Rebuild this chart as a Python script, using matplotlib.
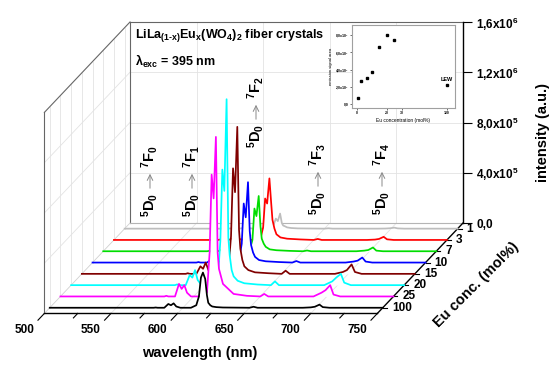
import matplotlib.pyplot as plt
from matplotlib.transforms import Affine2D

plt.rcParams['font.family'] = ['Liberation Sans', 'DejaVu Sans']
plt.rcParams['font.weight'] = 'bold'
plt.rcParams['mathtext.fontset'] = 'custom'
plt.rcParams['mathtext.rm'] = 'Liberation Sans:bold'
plt.rcParams['mathtext.bf'] = 'Liberation Sans:bold'
plt.rcParams['mathtext.it'] = 'Liberation Sans:bold'
plt.rcParams['mathtext.default'] = 'bf'

# emission spectra, intensity in units of 1e5 (a.u.)
wavelength = [500, 560, 578, 579.5, 581, 586, 589, 591, 593, 595, 598, 606, 610, 612, 613.5,
              615, 616.7, 618, 619, 620.5, 622, 625, 630, 640, 650, 653, 656, 665, 690, 696,
              699, 702.5, 705, 710, 750]

eu_01 = [0, 0, 0, 0.02, 0, 0, 0.05, 0.03, 0.06, 0.02, 0, 0, 0.05, 0.35, 0.8, 0.6, 1.2, 0.45,
         0.25, 0.18, 0.1, 0.05, 0.02, 0.01, 0, 0.03, 0, 0, 0, 0.01, 0.03, 0.08, 0.02, 0, 0]
eu_03 = [0, 0, 0, 0.03, 0, 0, 0.12, 0.08, 0.15, 0.05, 0, 0, 0.1, 1.0, 3.3, 2.9, 4.9, 3.0,
         1.6, 0.9, 0.45, 0.2, 0.1, 0.04, 0, 0.08, 0, 0, 0, 0.03, 0.08, 0.25, 0.05, 0, 0]
eu_07 = [0, 0, 0, 0.03, 0, 0, 0.12, 0.08, 0.15, 0.05, 0, 0, 0.1, 0.9, 3.4, 2.8, 4.4, 2.0,
         1.0, 0.6, 0.35, 0.15, 0.08, 0.03, 0, 0.06, 0, 0, 0, 0.05, 0.1, 0.3, 0.05, 0, 0]
eu_10 = [0, 0, 0, 0.04, 0, 0, 0.25, 0.15, 0.3, 0.1, 0, 0, 0.15, 1.5, 4.7, 3.6, 6.4, 2.5,
         1.4, 0.8, 0.45, 0.2, 0.1, 0.04, 0, 0.12, 0, 0, 0, 0.08, 0.15, 0.4, 0.08, 0, 0]
eu_15 = [0, 0, 0, 0.05, 0, 0, 0.6, 0.4, 0.9, 0.3, 0, 0, 0.3, 3.0, 8.4, 6.5, 11.7, 3.5,
         2.0, 1.1, 0.6, 0.3, 0.12, 0.05, 0, 0.25, 0, 0, 0, 0.15, 0.3, 0.75, 0.15, 0, 0]
eu_20 = [0, 0, 0, 0.06, 0, 0, 0.8, 0.6, 1.2, 0.4, 0, 0, 0.3, 3.5, 9.2, 7.5, 14.8, 3.8,
         2.4, 1.2, 0.7, 0.35, 0.15, 0.05, 0, 0.3, 0, 0, 0, 0.3, 0.6, 0.9, 0.2, 0, 0]
eu_25 = [0, 0, 0, 0.05, 0, 0, 1.0, 0.6, 0.9, 0.3, 0, 0, 0.3, 3.5, 9.7, 7.8, 12.7, 3.5,
         2.2, 1.6, 1.0, 0.7, 0.2, 0.05, 0, 0.2, 0, 0, 0, 0.3, 0.5, 0.9, 0.15, 0, 0]
eu_100 = [0, 0, 0, 0.02, 0, 0, 0.3, 0.2, 0.35, 0.1, 0, 0, 0.2, 0.9, 2.4, 2.8, 2.3, 1.0,
          0.4, 0.2, 0.1, 0.05, 0.02, 0.01, 0, 0.08, 0, 0, 0, 0.03, 0.08, 0.25, 0.05, 0, 0]

spectra = [eu_01, eu_03, eu_07, eu_10, eu_15, eu_20, eu_25, eu_100]
conc_labels = ['1', '3', '7', '10', '15', '20', '25', '100']
colors = ['#bdbdbd', '#ff0000', '#00dd00', '#0000ff', '#800000', '#00ffff', '#ff00ff', '#000000']

int_ticks = [0, 4, 8, 12, 16]
int_labels = ['0,0', r'4,0x10$^5$', r'8,0x10$^5$', r'1,2x10$^6$', r'1,6x10$^6$']

# inset: integrated emission vs Eu content
inset_conc = [1, 3, 7, 10, 15, 20, 25, 100]
inset_area = [0.73, 2.67, 2.98, 3.75, 6.6, 8.0, 7.5, 2.17]

# transitions 5D0 -> 7FJ : (x px, bottom y px, J)
transitions = [(150, 217, 0), (192, 217, 1), (256, 148, 2), (318, 215, 3), (382, 215, 4)]

W, H = 553, 365
DX, DY = 10.7, 11.3   # pixel shift per depth step
NDEPTH = 8

fig = plt.figure(figsize=(W / 100, H / 100), dpi=100)
ov = fig.add_axes([0, 0, 1, 1], zorder=0)
ov.set_xlim(0, W)
ov.set_ylim(0, H)
ov.axis('off')

ax = fig.add_axes([130 / W, 1 - 223 / H, 333 / W, 201 / H], zorder=2)
ax.set_xlim(500, 750)
ax.set_ylim(0, 16)
ax.patch.set_visible(False)
for s in ['left', 'top', 'bottom']:
    ax.spines[s].set_visible(False)
ax.spines['right'].set_linewidth(1.0)
ax.set_xticks([])
ax.yaxis.tick_right()
ax.set_yticks(int_ticks)
ax.set_yticklabels(int_labels)
ax.tick_params(axis='y', length=6.5, width=0.8, labelsize=8.5, pad=3)


def P(wl, val, d):
    x, y = ax.transData.transform((wl, val))
    return x - d * DX, y - d * DY


def seg(a, b, **kw):
    ov.plot([a[0], b[0]], [a[1], b[1]], **kw)


grid = dict(color='#e3e3e3', lw=0.6)
for wl in [550, 600, 650, 700]:
    seg(P(wl, 0, 0), P(wl, 16, 0), **grid)
    seg(P(wl, 0, 0), P(wl, 0, NDEPTH), **grid)
for v in [4, 8, 12]:
    seg(P(500, v, 0), P(750, v, 0), **grid)
    seg(P(500, v, 0), P(500, v, NDEPTH), **grid)
for k in range(len(spectra)):
    seg(P(500, 0, k + 0.5), P(500, 16, k + 0.5), **grid)

edge = dict(color='#666666', lw=0.8)
seg(P(500, 16, 0), P(750, 16, 0), **edge)
seg(P(500, 0, 0), P(500, 16, 0), **edge)
seg(P(500, 16, 0), P(500, 16, NDEPTH), **edge)
seg(P(500, 16, NDEPTH), P(500, 0, NDEPTH), **edge)
seg(P(500, 0, 0), P(750, 0, 0), color='#b5b5b5', lw=0.8)
seg(P(500, 0, 0), P(500, 0, NDEPTH), color='#d0d0d0', lw=0.6)

# front wavelength axis
seg(P(500, 0, NDEPTH), P(750, 0, NDEPTH), color='k', lw=1.0)
for wl in range(500, 751, 25):
    L = 0.6 if wl % 50 == 0 else 0.4
    seg(P(wl, 0, NDEPTH), P(wl, 0, NDEPTH + L), color='k', lw=0.8)
    if wl % 50 == 0:
        x, y = P(wl, 0, NDEPTH)
        ov.text(x - 20, y - 17, str(wl), ha='center', va='center', fontsize=8.5)
ov.text(200, H - 353, 'wavelength (nm)', ha='center', va='center', fontsize=10.5)

# depth axis
seg(P(750, 0, 0), P(750, 0, NDEPTH), color='k', lw=1.0)
for k, lab in enumerate(conc_labels):
    x, y = P(750, 0, k + 0.5)
    ov.plot([x, x + 4], [y, y], color='k', lw=0.8)
    ov.text(x + 9, y, lab, ha='left', va='center', fontsize=8.5)
ov.text(476, H - 285, 'Eu conc. (mol%)', rotation=45, ha='center', va='center',
        rotation_mode='anchor', fontsize=10.5)

ov.text(543, H - 133, 'intensity (a.u.)', rotation=90, ha='center', va='center', fontsize=10.5)

ov.text(135, H - 36, r'LiLa$_{(1\text{-}x)}$Eu$_x$(WO$_4$)$_2$ fiber crystals', ha='left',
        va='center', fontsize=9)
ov.text(135, H - 61, r'$\lambda_{exc}$ = 395 nm', ha='left', va='center', fontsize=9)

for x, yb, j in transitions:
    ov.text(x, H - yb, r'$^5$D$_0$', rotation=90, ha='center', va='bottom', fontsize=10.5)
    ov.annotate('', xy=(x, H - (yb - 46)), xytext=(x, H - (yb - 26)),
                arrowprops=dict(arrowstyle='->', color='#888888', lw=0.7))
    ov.text(x, H - (yb - 49), r'$^7$F$_%d$' % j, rotation=90, ha='center', va='bottom',
            fontsize=10.5)

# spectra, back to front, each shifted along the depth direction
for k, (vals, col) in enumerate(zip(spectra, colors)):
    d = k + 0.5
    tr = ax.transData + Affine2D().translate(-d * DX, -d * DY)
    ax.fill_between(wavelength, 0, vals, color='white', lw=0, transform=tr,
                    zorder=2 + 2 * k, clip_on=False)
    ax.plot(wavelength, vals, color=col, lw=1.25, transform=tr, zorder=3 + 2 * k,
            clip_on=False)

# inset
ins = fig.add_axes([352 / W, 1 - 108 / H, 103 / W, 83 / H], zorder=3)


def brk(c):
    return c if c <= 30 else c - 40


ins.plot([brk(c) for c in inset_conc], inset_area, 's', ms=1.5, color='k')
ins.set_xlim(-3.3, 65.3)
ins.set_ylim(-0.47, 9.19)
ins.set_xticks([0, 20, 30, 60])
ins.set_xticklabels(['0', '20', '30', '100'])
ins.set_yticks([0, 2, 4, 6, 8])
ins.set_yticklabels(['0,0', r'2,0x10$^7$', r'4,0x10$^7$', r'6,0x10$^7$', r'8,0x10$^7$'])
ins.tick_params(labelsize=2.5, length=1.5, width=0.4, pad=1)
for s in ins.spines.values():
    s.set_color('#a0a0a0')
    s.set_linewidth(0.8)
ins.set_ylabel('emission signal area', fontsize=3, labelpad=1)
ins.set_xlabel('Eu concentration (mol%)', fontsize=3.5, labelpad=2)
ins.annotate('LEW', (brk(100), inset_area[-1]), xytext=(0, 2.5), textcoords='offset points',
             ha='center', va='bottom', fontsize=4)

fig.savefig('out.png', dpi=100)
